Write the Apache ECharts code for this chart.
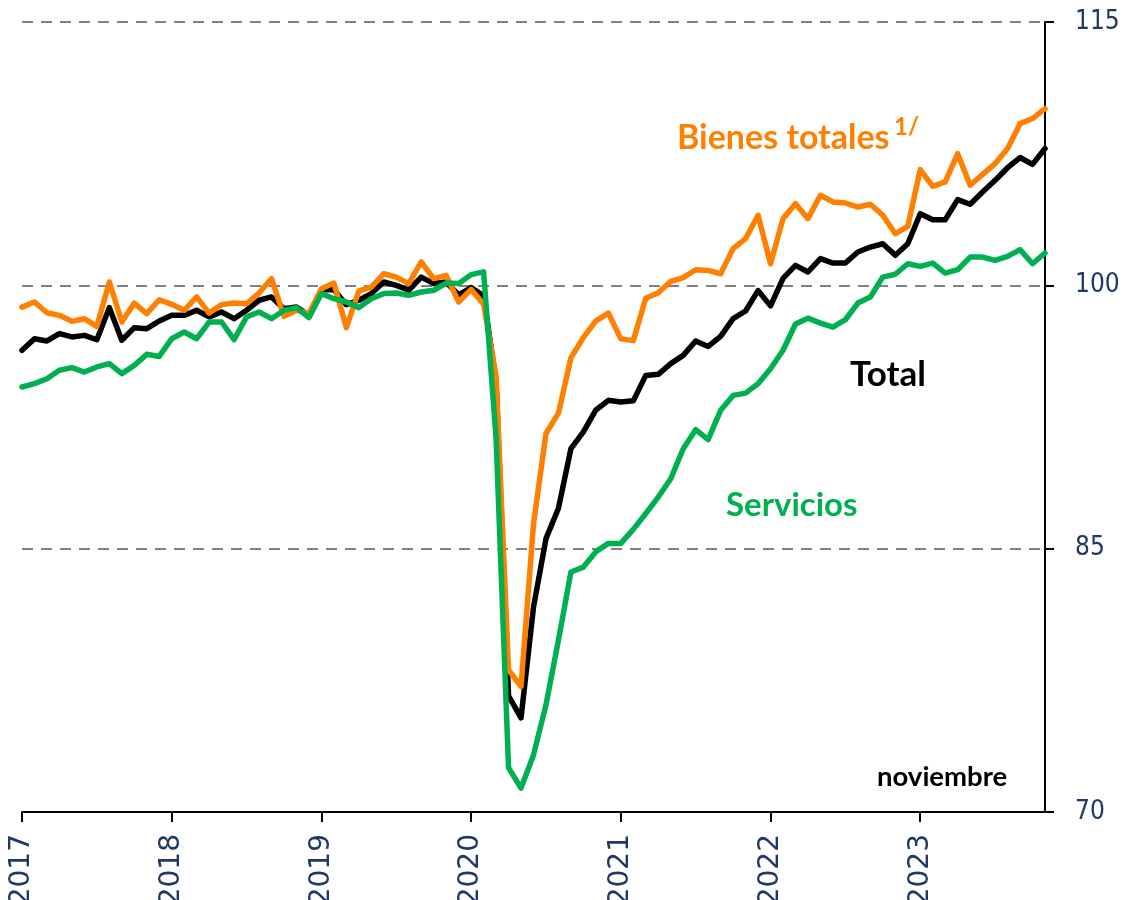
<!DOCTYPE html>
<html>
<head>
<meta charset="utf-8">
<script src="https://cdn.jsdelivr.net/npm/echarts@6/dist/echarts.min.js"></script>
<style>
  html,body{margin:0;padding:0;background:#fff;}
  #main{width:1127px;height:900px;}
</style>
</head>
<body>
<div id="main"></div>
<script>
// years shown on the axis, months run Jan 2017 .. Nov 2023
var years = ['2017','2018','2019','2020','2021','2022','2023'];
var lastMonth = 11;

// Bienes totales 1/
var bienes = [
  98.76, 99.05, 98.44, 98.29, 97.95, 98.10, 97.66, 100.19, 97.91, 98.99, 98.39, 99.18,
  98.92, 98.58, 99.34, 98.42, 98.90, 98.99, 98.95, 99.56, 100.38, 98.23, 98.58, 98.40,
  99.81, 100.13, 97.59, 99.68, 99.90, 100.66, 100.47, 100.10, 101.33, 100.38, 100.57, 99.05,
  99.77, 98.92, 94.82, 78.10, 77.15, 86.40, 91.56, 92.72, 95.87, 97.03, 97.98, 98.42,
  96.95, 96.85, 99.27, 99.58, 100.22, 100.44, 100.89, 100.85, 100.66, 102.09, 102.66, 103.99,
  101.23, 103.80, 104.65, 103.80, 105.13, 104.75, 104.69, 104.46, 104.62, 103.99, 102.94, 103.36,
  106.59, 105.64, 105.89, 107.50, 105.70, 106.32, 106.93, 107.79, 109.21, 109.50, 110.07
];
// Total
var total = [
  96.30, 96.96, 96.83, 97.25, 97.06, 97.15, 96.90, 98.73, 96.87, 97.59, 97.53, 97.97,
  98.29, 98.29, 98.58, 98.20, 98.48, 98.10, 98.58, 99.15, 99.34, 98.67, 98.77, 98.29,
  99.75, 99.75, 98.90, 99.15, 99.53, 100.19, 100.00, 99.72, 100.47, 100.10, 100.19, 99.45,
  99.87, 99.40, 94.50, 76.62, 75.36, 81.67, 85.57, 87.30, 90.70, 91.65, 92.90, 93.45,
  93.35, 93.42, 94.87, 94.93, 95.54, 96.01, 96.83, 96.52, 97.09, 98.10, 98.54, 99.70,
  98.83, 100.40, 101.14, 100.76, 101.52, 101.27, 101.27, 101.90, 102.18, 102.37, 101.71, 102.37,
  104.08, 103.74, 103.74, 104.88, 104.62, 105.32, 105.98, 106.70, 107.28, 106.89, 107.79
];
// Servicios
var servicios = [
  94.21, 94.40, 94.68, 95.16, 95.31, 95.06, 95.35, 95.54, 94.97, 95.44, 96.07, 95.95,
  96.96, 97.34, 96.96, 97.91, 97.91, 96.90, 98.20, 98.48, 98.10, 98.58, 98.73, 98.16,
  99.53, 99.24, 99.05, 98.73, 99.24, 99.53, 99.56, 99.43, 99.62, 99.72, 100.13, 100.10,
  100.61, 100.77, 91.30, 72.52, 71.36, 73.25, 76.10, 79.80, 83.67, 83.95, 84.83, 85.30,
  85.30, 86.10, 87.00, 87.94, 88.98, 90.69, 91.78, 91.21, 92.88, 93.73, 93.86, 94.40,
  95.25, 96.30, 97.80, 98.13, 97.85, 97.62, 98.04, 98.99, 99.34, 100.47, 100.63, 101.23,
  101.08, 101.27, 100.70, 100.89, 101.61, 101.61, 101.42, 101.65, 102.03, 101.23, 101.84
];
var yTicks = [70, 85, 100, 115];

// categorias mensuales
var months = [];
for (var y = 0; y < years.length; y++) {
  var n = (y === years.length - 1) ? lastMonth : 12;
  for (var m = 1; m <= n; m++) {
    months.push(years[y] + '-' + (m < 10 ? '0' + m : m));
  }
}

var navy = '#1F3864';
var isJan = function (idx) { return idx % 12 === 0; };

var myChart = echarts.init(document.getElementById('main'));

var option = {
  animation: false,
  backgroundColor: '#ffffff',
  grid: {
    left: 22,
    right: 82,
    top: 22,
    bottom: 88,
    containLabel: false,
    outerBoundsMode: 'none'
  },
  xAxis: {
    type: 'category',
    data: months,
    boundaryGap: false,
    axisLine: {
      lineStyle: { color: '#000', width: 2 }
    },
    axisTick: {
      interval: isJan,
      length: 10,
      lineStyle: { color: '#000', width: 2 }
    },
    axisLabel: {
      interval: isJan,
      rotate: 90,
      margin: 22,
      color: navy,
      fontSize: 28,
      fontFamily: '"DejaVu Sans"',
      formatter: function (v) { return v.slice(0, 4); }
    },
    splitLine: { show: false }
  },
  yAxis: {
    type: 'value',
    position: 'right',
    min: yTicks[0],
    max: yTicks[yTicks.length - 1],
    interval: yTicks[1] - yTicks[0],
    axisLine: {
      show: true,
      lineStyle: { color: '#000', width: 2 }
    },
    axisTick: {
      show: true,
      length: 9,
      lineStyle: { color: '#000', width: 2 }
    },
    axisLabel: {
      margin: 30,
      color: navy,
      fontSize: 26,
      fontFamily: '"DejaVu Sans Condensed", "DejaVu Sans"'
    },
    splitLine: {
      show: true,
      lineStyle: { color: '#808080', width: 2, type: [11, 8] }
    }
  },
  series: [
    {
      name: 'Total',
      type: 'line',
      data: total,
      symbol: 'none',
      z: 2,
      lineStyle: { color: '#000000', width: 5.5, cap: 'round', join: 'round' }
    },
    {
      name: 'Bienes totales',
      type: 'line',
      data: bienes,
      symbol: 'none',
      z: 3,
      lineStyle: { color: '#FF8000', width: 5.5, cap: 'round', join: 'round' }
    },
    {
      name: 'Servicios',
      type: 'line',
      data: servicios,
      symbol: 'none',
      z: 4,
      lineStyle: { color: '#00B050', width: 5.5, cap: 'round', join: 'round' }
    }
  ],
  graphic: [
    {
      type: 'text',
      style: { x: 677, y: 138, text: 'Bienes totales', fill: '#FF8000',
        font: 'bold 34px Lato', verticalAlign: 'middle' }
    },
    {
      type: 'text',
      style: { x: 894, y: 127, text: '1/', fill: '#FF8000',
        font: 'bold 24px Lato', verticalAlign: 'middle' }
    },
    {
      type: 'text',
      style: { x: 850, y: 375, text: 'Total', fill: '#000000',
        font: 'bold 35px Lato', verticalAlign: 'middle' }
    },
    {
      type: 'text',
      style: { x: 726, y: 505, text: 'Servicios', fill: '#00B050',
        font: 'bold 33px Lato', verticalAlign: 'middle' }
    },
    {
      type: 'text',
      style: { x: 877, y: 777, text: 'noviembre', fill: '#000000',
        font: 'bold 27.5px Lato', verticalAlign: 'middle' }
    }
  ]
};

myChart.setOption(option);
</script>
</body>
</html>
